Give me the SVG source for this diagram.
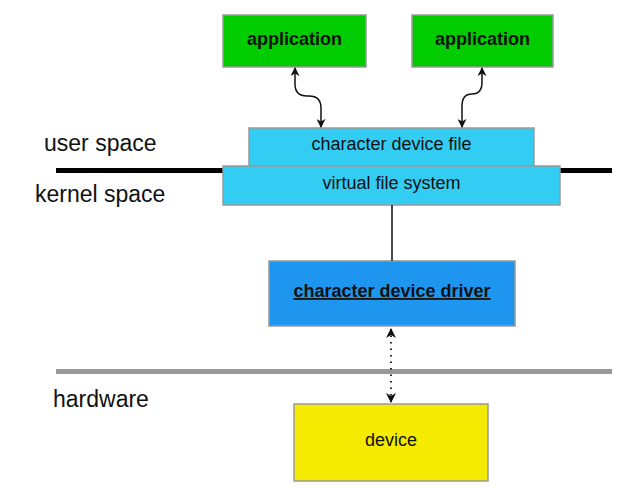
<svg xmlns="http://www.w3.org/2000/svg" width="640" height="488" viewBox="0 0 640 488">
<style>
text{font-family:"Liberation Sans",Arial,sans-serif;fill:#111}
.lbl{font-size:23px}
.t{font-size:18px;text-anchor:middle}
.b{font-weight:bold}
.box{stroke:#999;stroke-width:1.5}
.con{fill:none;stroke:#111;stroke-width:1.5}
</style>
<defs>
<marker id="ah" viewBox="0 0 10 10" refX="9" refY="5" markerWidth="9" markerHeight="9" markerUnits="userSpaceOnUse" orient="auto-start-reverse">
<path d="M0,0 L10,5 L0,10 L3,5 Z" fill="#111"/>
</marker>
<marker id="ahd" viewBox="0 0 10 10" refX="9" refY="5" markerWidth="10" markerHeight="10" markerUnits="userSpaceOnUse" orient="auto-start-reverse">
<path d="M0,0 L10,5 L0,10 L3,5 Z" fill="#111"/>
</marker>
</defs>
<rect width="640" height="488" fill="#fff"/>
<g id="layers">
<line x1="56" y1="170.5" x2="612" y2="170.5" stroke="#000" stroke-width="5"/>
<line x1="56" y1="371.5" x2="612" y2="371.5" stroke="#999" stroke-width="5"/>
<text class="lbl" x="44" y="151">user space</text>
<text class="lbl" x="35" y="202">kernel space</text>
<text class="lbl" x="53" y="407">hardware</text>
</g>
<g id="app1">
<rect class="box" x="223" y="15" width="143" height="52" fill="#00CC00" stroke="#666"/>
<text class="t b" x="294.5" y="45">application</text>
</g>
<g id="app2">
<rect class="box" x="412" y="15" width="141" height="52" fill="#00CC00" stroke="#666"/>
<text class="t b" x="482.5" y="45">application</text>
</g>
<g id="cdf">
<rect class="box" x="249" y="128" width="285" height="38" fill="#33CCF2"/>
<text class="t" x="391.5" y="150">character device file</text>
</g>
<g id="vfs">
<rect class="box" x="223" y="166" width="337" height="39" fill="#33CCF2"/>
<text class="t" x="391.5" y="189">virtual file system</text>
</g>
<g id="driver">
<rect class="box" x="269" y="261" width="246" height="65" fill="#1E96F0"/>
<text class="t b" x="392" y="297" text-decoration="underline">character device driver</text>
</g>
<g id="device">
<rect class="box" x="294" y="404" width="194" height="77" fill="#F5EB00"/>
<text class="t" x="391" y="446">device</text>
</g>
<g id="connectors">
<path class="con" d="M295,68 L295,84 Q295,96 307,96 L309,96 Q321,96 321,108 L321,127" marker-start="url(#ah)" marker-end="url(#ah)"/>
<path class="con" d="M482,68 L482,82 Q482,94 472,94 Q462,94 462,106 L462,127" marker-start="url(#ah)" marker-end="url(#ah)"/>
<line class="con" x1="392" y1="205" x2="392" y2="261" stroke="#333"/>
<line x1="391" y1="329" x2="391" y2="402" stroke="#111" stroke-width="1.8" stroke-dasharray="1.5 5" marker-start="url(#ahd)" marker-end="url(#ahd)"/>
</g>
</svg>
